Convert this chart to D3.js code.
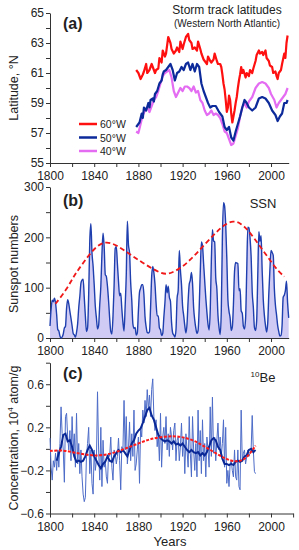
<!DOCTYPE html>
<html lang="en">
<head>
<meta charset="UTF-8"/>
<title>Storm tracks, SSN and 10Be</title>
<script src="https://d3js.org/d3.v7.min.js"></script>
<style>
	body { margin: 0; background: #fff; }
	svg text { font-family: "Liberation Sans", Arial, sans-serif; fill: #222; }
	.axis path, .axis line { stroke: #333; }
</style>
</head>
<body>
<script>
	//Panel (a) storm track latitudes, [year, latitude]
	var lat60 = [[1878,61.2],[1880,61.0],[1882,60.6],[1884,60.9],[1885,61.1],[1887,61.6],[1888,61.0],[1890,61.2],[1892,61.6],[1893,61.4],[1895,61.0],[1896,61.2],[1898,61.3],[1899,62.0],[1901,61.7],[1902,62.5],[1904,62.1],[1905,62.3],[1907,63.4],[1909,63.0],[1910,62.6],[1912,62.3],[1914,62.5],[1915,62.7],[1917,62.4],[1918,63.1],[1920,62.6],[1921,62.9],[1923,63.4],[1925,63.6],[1926,63.2],[1928,63.0],[1929,62.6],[1931,62.7],[1933,62.5],[1934,63.1],[1936,62.6],[1937,62.3],[1939,61.9],[1940,61.8],[1942,61.6],[1943,62.1],[1945,61.8],[1946,61.7],[1948,61.9],[1949,62.3],[1951,61.8],[1952,61.6],[1954,61.6],[1955,61.4],[1956,60.9],[1957,60.3],[1958,59.9],[1959,59.2],[1960,58.4],[1961,58.7],[1962,59.5],[1963,59.2],[1964,58.3],[1965,57.7],[1966,58.1],[1967,58.5],[1968,59.0],[1969,59.4],[1970,60.0],[1971,60.5],[1972,60.9],[1973,61.4],[1974,61.0],[1975,61.2],[1977,60.7],[1978,61.0],[1980,60.8],[1981,61.2],[1983,61.0],[1984,61.3],[1986,61.8],[1987,62.2],[1989,62.5],[1990,62.3],[1992,62.4],[1993,62.2],[1995,62.5],[1996,62.0],[1998,61.8],[1999,61.5],[2001,61.4],[2002,61.0],[2004,61.1],[2005,60.8],[2006,60.6],[2007,61.0],[2009,61.2],[2010,61.6],[2012,62.3],[2013,62.0],[2014,63.0],[2015,63.5]];
	var lat50 = [[1878,57.4],[1879,57.5],[1881,57.7],[1883,58.3],[1884,58.0],[1885,58.7],[1887,58.5],[1889,59.0],[1890,58.7],[1891,59.2],[1893,59.3],[1894,59.1],[1895,59.6],[1897,59.8],[1899,60.3],[1901,60.5],[1902,60.9],[1903,61.1],[1905,61.2],[1907,61.4],[1909,61.6],[1911,61.2],[1913,60.5],[1915,61.0],[1917,61.1],[1919,61.4],[1921,61.2],[1923,61.6],[1925,61.7],[1927,61.2],[1929,61.6],[1931,61.1],[1933,61.6],[1935,61.4],[1937,60.3],[1939,59.8],[1941,59.4],[1943,59.0],[1945,58.7],[1947,58.8],[1950,58.8],[1953,58.4],[1956,58.1],[1958,57.4],[1960,57.2],[1962,57.4],[1964,56.7],[1966,56.5],[1968,57.1],[1970,57.6],[1972,58.1],[1974,58.7],[1976,59.2],[1978,59.0],[1980,58.7],[1983,58.5],[1986,58.7],[1989,59.3],[1992,59.4],[1995,59.3],[1998,59.0],[2001,58.5],[2004,58.2],[2006,57.8],[2008,58.1],[2010,58.3],[2012,59.0],[2014,59.0],[2015,59.2]];
	var lat40 = [[1878,57.1],[1880,57.0],[1882,57.6],[1884,58.2],[1886,58.5],[1888,58.7],[1890,58.4],[1892,58.8],[1894,59.2],[1896,59.4],[1898,59.8],[1900,60.3],[1902,60.8],[1904,61.0],[1906,61.1],[1908,61.2],[1910,60.7],[1912,59.8],[1914,59.4],[1916,59.7],[1918,60.0],[1920,59.8],[1922,60.1],[1924,60.1],[1926,60.0],[1928,59.8],[1930,60.1],[1932,59.7],[1934,59.8],[1936,59.2],[1938,59.0],[1940,58.5],[1942,58.2],[1944,58.3],[1946,58.5],[1948,58.2],[1950,58.3],[1952,58.2],[1954,58.0],[1956,57.6],[1958,57.1],[1960,57.0],[1962,56.6],[1964,56.2],[1966,56.3],[1968,56.8],[1970,57.3],[1972,58.1],[1974,58.7],[1976,59.0],[1978,58.7],[1980,59.1],[1983,59.4],[1986,60.0],[1989,60.3],[1992,60.4],[1995,60.3],[1998,60.0],[2000,59.6],[2003,59.2],[2005,58.7],[2007,59.0],[2009,59.2],[2011,59.4],[2013,59.6],[2015,60.0]];
	var latLegend = ["60\u00B0W", "50\u00B0W", "40\u00B0W"];

	//Panel (b) yearly sunspot numbers from 1800
	var ssnStart = 1800;
	var ssn = [24,57,75,72,79,70,47,17,14,4,0,2,8,20,23,59,76,68,53,39,24,9,6,2,11,28,60,83,109,115,117,81,44,13,20,86,193,227,169,143,106,63,40,18,25,66,103,166,208,182,126,122,103,74,39,13,8,43,104,178,182,147,112,84,89,58,31,14,63,124,232,185,169,110,75,28,19,21,6,10,54,91,99,106,106,86,42,22,11,10,12,60,122,142,130,107,69,44,44,20,16,5,9,41,70,106,90,103,81,73,31,10,6,2,16,79,95,174,135,106,63,44,24,10,28,74,107,115,130,108,59,35,19,9,15,60,133,191,183,148,113,79,51,27,16,55,154,215,193,191,119,98,45,20,7,54,201,269,262,225,159,76,53,40,15,22,67,133,150,149,148,94,98,54,49,23,18,39,131,220,219,199,162,91,61,21,15,34,123,211,192,203,133,76,45,25,12,29,88,136,174,170,164,99,65,46,25,13,4,5,25,81,85,94,113,70,40];
	var ssnTrend = [[1805,68],[1815,96],[1822,125],[1830,149],[1840,179],[1850,193],[1860,185],[1870,170],[1880,155],[1890,141],[1900,129],[1905,127],[1910,129],[1920,141],[1930,162],[1940,186],[1950,209],[1958,226],[1966,233],[1972,229],[1980,213],[1990,182],[2000,152],[2006,134],[2012,122]];

	//Panel (c) 10Be concentration, annual from 1800, smoothed and trend
	var beStart = 1800;
	var be = [0.10,-0.17,-0.29,-0.11,-0.17,-0.04,-0.20,-0.01,-0.17,0.05,0.39,0.14,-0.01,-0.31,0.30,0.33,0.11,-0.01,0.17,-0.11,0.30,-0.01,0.14,-0.17,0.33,-0.14,0.05,-0.23,-0.01,-0.26,-0.42,-0.49,-0.45,-0.07,0.05,0.20,-0.23,-0.01,-0.32,-0.42,-0.01,-0.20,-0.11,0.53,-0.01,-0.29,0.20,-0.35,0.08,-0.17,-0.11,-0.26,-0.32,-0.04,-0.07,0.11,-0.17,-0.29,-0.01,-0.04,-0.14,-0.07,0.10,-0.11,-0.38,0.02,-0.01,0.45,-0.01,0.30,-0.14,-0.01,0.25,-0.11,0.14,-0.07,0.36,-0.20,-0.14,-0.01,0.11,-0.32,0.20,0.11,0.36,0.24,0.45,0.30,0.55,0.36,0.50,0.30,0.55,0.65,0.30,0.17,0.27,0.02,0.14,-0.11,0.33,-0.17,0.11,0.20,0.05,0.30,-0.01,0.14,-0.07,0.20,0.11,-0.01,0.17,0.24,-0.11,0.08,0.11,-0.11,0.02,0.24,-0.07,0.11,-0.23,0.14,-0.01,-0.17,0.30,-0.04,-0.26,0.30,-0.01,-0.20,0.05,-0.26,0.36,-0.11,0.17,-0.23,0.27,-0.11,0.05,-0.26,0.11,-0.01,-0.17,0.39,-0.07,0.48,-0.04,0.11,-0.11,0.08,0.24,-0.01,0.11,-0.07,0.05,0.27,-0.17,0.20,-0.32,-0.20,-0.35,-0.14,-0.11,-0.20,-0.26,-0.01,-0.26,-0.29,-0.01,-0.35,-0.38,0.36,-0.11,-0.04,-0.01,-0.14,-0.07,-0.01,-0.07,-0.04,-0.01,0.31,-0.01,-0.21,-0.23];
	var beSmooth = [[1806,-0.11],[1808,-0.04],[1810,0.02],[1812,0.13],[1814,0.14],[1816,0.07],[1818,0.08],[1820,0.02],[1822,-0.07],[1824,-0.12],[1826,-0.11],[1828,-0.12],[1830,-0.11],[1832,-0.07],[1834,-0.01],[1836,0.03],[1838,-0.01],[1840,-0.07],[1842,-0.11],[1844,-0.15],[1846,-0.18],[1848,-0.14],[1850,-0.12],[1852,-0.07],[1854,-0.11],[1856,-0.12],[1858,-0.07],[1860,-0.04],[1862,-0.01],[1864,-0.03],[1866,-0.01],[1868,-0.04],[1870,-0.07],[1872,-0.01],[1874,0.05],[1876,0.08],[1878,0.14],[1880,0.17],[1882,0.19],[1884,0.24],[1886,0.30],[1888,0.36],[1890,0.38],[1892,0.31],[1894,0.27],[1896,0.20],[1898,0.13],[1900,0.10],[1902,0.08],[1904,0.07],[1906,0.08],[1908,0.07],[1910,0.05],[1912,0.07],[1914,0.04],[1916,0.05],[1918,0.03],[1920,0.05],[1922,0.02],[1924,-0.01],[1926,-0.03],[1928,-0.01],[1930,-0.03],[1932,-0.04],[1934,-0.03],[1936,-0.06],[1938,-0.04],[1940,-0.06],[1942,-0.03],[1944,0.02],[1946,0.08],[1948,0.10],[1950,0.08],[1952,0.02],[1954,-0.01],[1956,-0.09],[1958,-0.14],[1960,-0.14],[1962,-0.15],[1964,-0.14],[1966,-0.15],[1968,-0.12],[1970,-0.11],[1972,-0.12],[1974,-0.11],[1976,-0.07],[1978,-0.06],[1980,-0.01],[1982,0.00],[1984,-0.03],[1986,-0.01]];
	var beTrend = [[1800,-0.02],[1810,-0.01],[1820,-0.03],[1830,-0.05],[1845,-0.07],[1860,-0.03],[1870,0.01],[1880,0.05],[1890,0.09],[1900,0.11],[1912,0.12],[1920,0.11],[1930,0.08],[1940,0.02],[1950,-0.04],[1960,-0.10],[1968,-0.12],[1974,-0.11],[1980,-0.06],[1986,0.03]];

	var w = 299, h = 550;
	var svg = d3.select("body").append("svg").attr("width", w).attr("height", h);

	//shared year scales
	var xAB = d3.scaleLinear().domain([1800, 2016]).range([50, 288.7]);
	var xC = d3.scaleLinear().domain([1800, 2020]).range([50, 293.1]);

	var yA = d3.scaleLinear().domain([55, 65]).range([163, 13]);
	var yB = d3.scaleLinear().domain([0, 300]).range([338, 187]);
	var yC = d3.scaleLinear().domain([-0.6, 0.8]).range([513.5, 362.7]);

	function drawAxes(x, y, xTicks, yTicks, yLabelTicks, yFmt) {
		var xAxis = d3.axisBottom(x).tickValues(xTicks).tickSize(4).tickSizeOuter(0)
			.tickFormat(function(d){ return d % 40 == 0 ? d : ""; });
		var gx = svg.append("g").attr("class", "axis")
			.attr("transform", "translate(0," + y.range()[0] + ")")
			.call(xAxis);
		gx.selectAll("text").attr("font-size", 12).attr("dy", "0.85em");

		var yAxis = d3.axisLeft(y).tickValues(yTicks).tickSize(4).tickSizeOuter(0)
			.tickFormat(function(d){ return yLabelTicks.indexOf(d) >= 0 ? yFmt(d) : ""; });
		var gy = svg.append("g").attr("class", "axis")
			.attr("transform", "translate(" + x.range()[0] + ",0)")
			.call(yAxis);
		gy.selectAll("text").attr("font-size", 12).attr("x", -6);
	}

	var yearTicksAB = d3.range(1800, 2016, 20);
	var yearTicksC = d3.range(1800, 2021, 20);

	//Panel (a)
	drawAxes(xAB, yA, yearTicksAB, d3.range(55, 66, 1), [55,57,59,61,63,65], d3.format("d"));

	var lineA = d3.line()
		.x(function(d){ return xAB(d[0]); })
		.y(function(d){ return yA(d[1]); });

	var seriesA = [lat60, lat50, lat40];
	var colA = ["#ff1010", "#0c2a9a", "#e46cf2"];
	seriesA.slice().reverse().forEach(function(s, i) {
		svg.append("path").datum(s)
			.attr("d", lineA)
			.attr("fill", "none")
			.attr("stroke", colA[2 - i])
			.attr("stroke-width", 2.2)
			.attr("stroke-linejoin", "round");
	});

	latLegend.forEach(function(t, i) {
		svg.append("line")
			.attr("x1", 79).attr("x2", 97)
			.attr("y1", 124 + i * 13.5).attr("y2", 124 + i * 13.5)
			.attr("stroke", colA[i]).attr("stroke-width", 2.5);
		svg.append("text")
			.attr("x", 100).attr("y", 128 + i * 13.5)
			.attr("font-size", 10.5)
			.text(t);
	});

	svg.append("text").attr("x", 63).attr("y", 29).attr("font-size", 16).attr("font-weight", "bold").text("(a)");
	svg.append("text").attr("x", 227).attr("y", 14).attr("font-size", 12).attr("text-anchor", "middle").text("Storm track latitudes");
	svg.append("text").attr("x", 227).attr("y", 27).attr("font-size", 10).attr("text-anchor", "middle").text("(Western North Atlantic)");

	//Panel (b)
	drawAxes(xAB, yB, yearTicksAB, d3.range(0, 301, 50), [0,100,200,300], d3.format("d"));

	var area = d3.area()
		.x(function(d, i){ return xAB(ssnStart + i); })
		.y0(yB(0))
		.y1(function(d){ return yB(d); })
		.curve(d3.curveMonotoneX);
	svg.append("path").datum(ssn)
		.attr("d", area)
		.attr("fill", "#cfcbf5");

	var lineB = d3.line()
		.x(function(d, i){ return xAB(ssnStart + i); })
		.y(function(d){ return yB(d); })
		.curve(d3.curveMonotoneX);
	svg.append("path").datum(ssn)
		.attr("d", lineB)
		.attr("fill", "none")
		.attr("stroke", "#1f3fae")
		.attr("stroke-width", 1.4);

	var trendLine = d3.line()
		.x(function(d){ return xAB(d[0]); })
		.y(function(d){ return yB(d[1]); })
		.curve(d3.curveBasis);
	svg.append("path").datum(ssnTrend)
		.attr("d", trendLine)
		.attr("fill", "none")
		.attr("stroke", "#f01818")
		.attr("stroke-width", 1.8)
		.attr("stroke-dasharray", "5,3");

	svg.append("text").attr("x", 63).attr("y", 206).attr("font-size", 16).attr("font-weight", "bold").text("(b)");
	svg.append("text").attr("x", 263).attr("y", 208).attr("font-size", 13).attr("text-anchor", "middle").text("SSN");

	//Panel (c)
	drawAxes(xC, yC, yearTicksC, [-0.6,-0.4,-0.2,0,0.2,0.4,0.6,0.8], [-0.6,-0.2,0.2,0.6], function(d){ return d < 0 ? "\u2212" + Math.abs(d) : d; });

	var lineCThin = d3.line()
		.x(function(d, i){ return xC(beStart + i); })
		.y(function(d){ return yC(d); });
	svg.append("path").datum(be)
		.attr("d", lineCThin)
		.attr("fill", "none")
		.attr("stroke", "#4d6cc8")
		.attr("stroke-width", 1);

	var lineC = d3.line()
		.x(function(d){ return xC(d[0]); })
		.y(function(d){ return yC(d[1]); });
	svg.append("path").datum(beSmooth)
		.attr("d", lineC)
		.attr("fill", "none")
		.attr("stroke", "#0a2896")
		.attr("stroke-width", 2);

	svg.append("path").datum(beTrend)
		.attr("d", lineC.curve(d3.curveBasis))
		.attr("fill", "none")
		.attr("stroke", "#ff1a1a")
		.attr("stroke-width", 2)
		.attr("stroke-dasharray", "3,1.5");

	svg.append("text").attr("x", 63).attr("y", 379).attr("font-size", 16).attr("font-weight", "bold").text("(c)");
	var be10 = svg.append("text").attr("x", 263).attr("y", 382).attr("font-size", 13).attr("text-anchor", "middle");
	be10.append("tspan").attr("font-size", 8).attr("dy", -5).text("10");
	be10.append("tspan").attr("dy", 5).text("Be");

	//axis titles
	svg.append("text").attr("transform", "translate(17.5,88) rotate(-90)")
		.attr("text-anchor", "middle").attr("font-size", 12.5).text("Latitude, \u00B0N");
	svg.append("text").attr("transform", "translate(17.5,264) rotate(-90)")
		.attr("text-anchor", "middle").attr("font-size", 12.5).text("Sunspot numbers");
	var conc = svg.append("text").attr("transform", "translate(17.5,438) rotate(-90)")
		.attr("text-anchor", "middle").attr("font-size", 12.5);
	conc.append("tspan").text("Concentration, 10");
	conc.append("tspan").attr("font-size", 8).attr("dy", -5).text("4");
	conc.append("tspan").attr("dy", 5).text(" atom/g");

	svg.append("text").attr("x", 170).attr("y", 546).attr("font-size", 13).attr("text-anchor", "middle").text("Years");
</script>
</body>
</html>
